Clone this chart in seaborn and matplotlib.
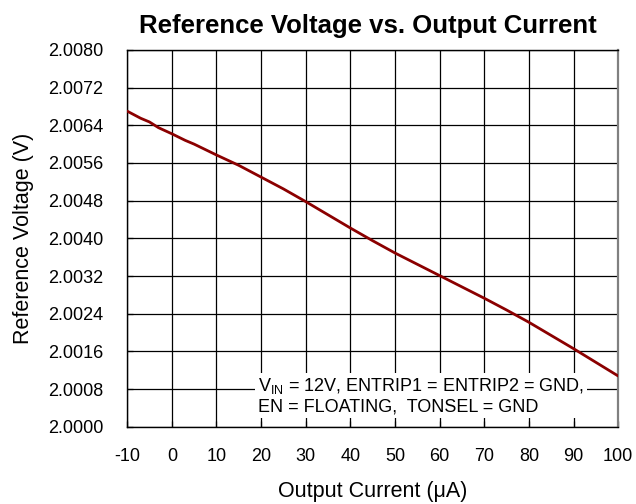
import numpy as np
import pandas as pd
import matplotlib
matplotlib.use("Agg")
import matplotlib.pyplot as plt
import seaborn as sns
from matplotlib.ticker import FormatStrFormatter, MultipleLocator

sns.set_style("white", {"text.color": "black", "axes.labelcolor": "black",
                        "xtick.color": "black", "ytick.color": "black"})
plt.rcParams['font.family'] = ['Liberation Sans', 'DejaVu Sans']
plt.rcParams['axes.unicode_minus'] = False

# values
current_ua = [-10, -7, -5, -3, 0, 3, 5, 10, 15, 20, 25, 30, 35, 40, 45, 50,
              55, 60, 65, 70, 75, 80, 85, 90, 95, 100]
ref_voltage = [2.00670, 2.00655, 2.00647, 2.00635, 2.00622, 2.00608, 2.00600,
               2.00577, 2.00555, 2.00530, 2.00505, 2.00478, 2.00450, 2.00422,
               2.00395, 2.00369, 2.00345, 2.00321, 2.00297, 2.00273, 2.00248,
               2.00222, 2.00194, 2.00166, 2.00137, 2.00108]

df = pd.DataFrame({"current": current_ua, "vref": ref_voltage})

fig = plt.figure(figsize=(6.36, 5.04), dpi=100)
ax = fig.add_axes([0.2, 0.153, 0.772, 0.748])

sns.lineplot(data=df, x="current", y="vref", color="#8b0000", linewidth=2, ax=ax, zorder=3)

ax.set_xlim(-10, 100)
ax.set_ylim(2.0000, 2.0080)
ax.xaxis.set_major_locator(MultipleLocator(10))
ax.yaxis.set_major_locator(MultipleLocator(0.0008))
ax.yaxis.set_major_formatter(FormatStrFormatter('%.4f'))

ax.grid(True, color="black", linewidth=0.9)
ax.set_axisbelow(True)
for s in ax.spines.values():
    s.set_color("black")
    s.set_linewidth(1.0)
ax.spines['right'].set_color("#808080")
ax.spines['right'].set_linewidth(1.6)

ax.tick_params(direction="in", length=4, width=0.9, labelsize=13,
               bottom=True, left=True)
ax.tick_params(axis="x", pad=15)
ax.tick_params(axis="y", pad=17)

ax.set_xlabel("Output Current (μA)", fontsize=15.5, labelpad=12)
ax.set_ylabel("Reference Voltage (V)", fontsize=15.5, labelpad=10)
ax.set_title("Reference Voltage vs. Output Current", fontsize=18.5,
             fontweight="bold", pad=12, x=0.49)

# condition note, white background over the grid
ax.text(19.3, 2.00066, r"V$_{\mathregular{IN}}$ = 12V, ENTRIP1 = ENTRIP2 = GND," + "\nEN = FLOATING,  TONSEL = GND",
        fontsize=13, va="center", ha="left", linespacing=1.15, zorder=2.5,
        bbox=dict(facecolor="white", edgecolor="none", pad=2))

fig.savefig("out.png", dpi=100)
